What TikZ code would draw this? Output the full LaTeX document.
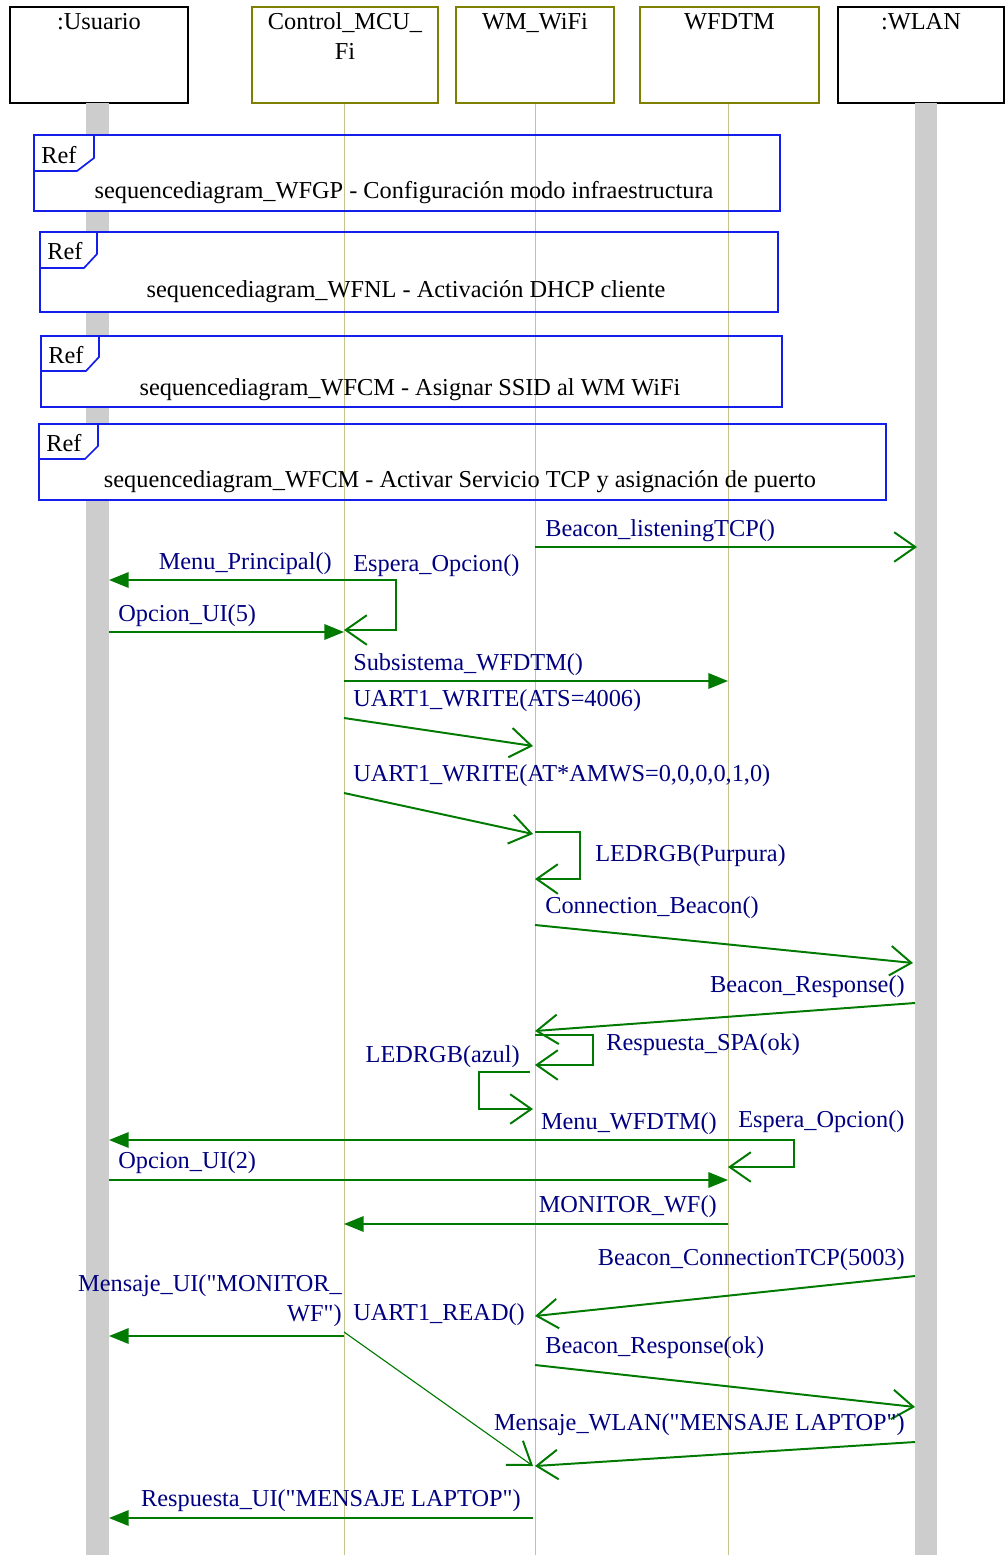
\documentclass[tikz,border=0pt]{standalone}
\usepackage{fontspec}
\setmainfont{Liberation Serif}
\usetikzlibrary{arrows.meta}

\definecolor{msggreen}{RGB}{0,122,0}
\definecolor{lblblue}{RGB}{0,0,128}
\definecolor{headolive}{RGB}{128,128,0}
\definecolor{lifeolive}{RGB}{196,196,140}
\definecolor{refblue}{RGB}{20,30,235}
\definecolor{barfill}{RGB}{205,205,205}

\begin{document}
\begin{tikzpicture}[x=0.025cm, y=-0.025cm,
  every node/.style={font=\fontsize{17.3}{21}\selectfont, inner sep=0pt},
  txt/.style={yshift=-2pt},
  head/.style={draw, line width=1.4pt, fill=white, minimum height=2.4cm},
  lifeline/.style={draw=lifeolive, line width=0.7pt},
  bar/.style={fill=barfill},
  frame/.style={draw=refblue, line width=1.2pt},
  lbl/.style={txt, text=lblblue},
  msg/.style={draw=msggreen, line width=1.4pt, -{Triangle[length=14pt, width=11pt]}},
  async/.style={draw=msggreen, line width=1.4pt, -{Straight Barb[length=15pt, width=21pt]}},
  selfmsg/.style={draw=msggreen, line width=0.8pt, -{Straight Barb[length=15pt, width=21pt, line width=1.4pt]}}]
  \useasboundingbox (0,0) rectangle (1006,1555);

  % Lifeline heads
  \node[head, minimum width=4.45cm] (usr) at (99,55) {};
  \node[head, draw=headolive, minimum width=4.65cm] (ctl) at (345,55) {};
  \node[head, draw=headolive, minimum width=3.95cm] (wm) at (535,55) {};
  \node[head, draw=headolive, minimum width=4.475cm] (dtm) at (729.5,55) {};
  \node[head, minimum width=4.15cm] (wlan) at (921,55) {};
  \node[txt, anchor=north] (usrt) at (99,10) {:Usuario};
  \node[txt, anchor=north, align=center] (ctlt) at (345,10) {Control\_MCU\_\\Fi};
  \node[txt, anchor=north] (wmt) at (535,10) {WM\_WiFi};
  \node[txt, anchor=north] (dtmt) at (729.5,10) {WFDTM};
  \node[txt, anchor=north] (wlant) at (921,10) {:WLAN};

  % Actor bars
  \fill[bar] (86,103) rectangle (109,1555);
  \fill[bar] (915,103) rectangle (937,1555);

  % Ref frames (white ground first)
  \fill[white] (34,135) rectangle (780,211);
  \fill[white] (40,232) rectangle (778,312);
  \fill[white] (41,336) rectangle (782,407);
  \fill[white] (39,424) rectangle (886,500);

  % Lifelines
  \coordinate (ctlend) at (344,1555);
  \coordinate (wmend) at (535,1555);
  \coordinate (dtmend) at (728,1555);
  \draw[lifeline] (ctl.south -| ctlend) -- (ctlend);
  \draw[lifeline] (wm.south -| wmend) -- (wmend);
  \draw[lifeline] (dtm.south -| dtmend) -- (dtmend);

  % Ref frames
  \draw[frame] (34,135) rectangle (780,211);
  \draw[frame] (34,171) -- (77,171) -- (94,158) -- (94,135);
  \node[txt] (ref1) at (59,152) {Ref};
  \node[txt] (reft1) at (404,190) {sequencediagram\_WFGP - Configuración modo infraestructura};

  \draw[frame] (40,232) rectangle (778,312);
  \draw[frame] (40,268) -- (84,268) -- (97,254) -- (97,232);
  \node[txt] (ref2) at (65,248) {Ref};
  \node[txt] (reft2) at (406,289) {sequencediagram\_WFNL - Activación DHCP cliente};

  \draw[frame] (41,336) rectangle (782,407);
  \draw[frame] (41,371) -- (86,371) -- (99,357) -- (99,336);
  \node[txt] (ref3) at (66,352) {Ref};
  \node[txt] (reft3) at (410,387) {sequencediagram\_WFCM - Asignar SSID al WM WiFi};

  \draw[frame] (39,424) rectangle (886,500);
  \draw[frame] (39,459) -- (85,459) -- (98,446) -- (98,424);
  \node[txt] (ref4) at (64,440) {Ref};
  \node[txt] (reft4) at (460,479) {sequencediagram\_WFCM - Activar Servicio TCP y asignación de puerto};

  % Messages - upper part
  \coordinate (m1s) at (535,547); \coordinate (m1e) at (917,547);
  \draw[async] (m1s) -- (m1e);
  \node[lbl, anchor=west] (l1) at (545,528) {Beacon\_listeningTCP()};

  \coordinate (m2s) at (344,580); \coordinate (m2e) at (109,580);
  \draw[msg] (m2s) -- (m2e);
  \node[lbl, anchor=east] (l2) at (332,561) {Menu\_Principal()};

  \coordinate (s1e) at (344,630);
  \draw[selfmsg] (m2s) -- ++(52,0) |- (s1e);
  \node[lbl, anchor=west] (l3) at (353,563) {Espera\_Opcion()};

  \coordinate (m3s) at (109,632); \coordinate (m3e) at (344,632);
  \draw[msg] (m3s) -- (m3e);
  \node[lbl, anchor=west] (l4) at (118,613) {Opcion\_UI(5)};

  \coordinate (m4s) at (344,681); \coordinate (m4e) at (728,681);
  \draw[msg] (m4s) -- (m4e);
  \node[lbl, anchor=west] (l5) at (353,662) {Subsistema\_WFDTM()};

  \coordinate (m5s) at (344,718); \coordinate (m5e) at (533,746);
  \draw[async] (m5s) -- (m5e);
  \node[lbl, anchor=west] (l6) at (353,698) {UART1\_WRITE(ATS=4006)};

  \coordinate (m6s) at (344,793); \coordinate (m6e) at (533,834);
  \draw[async] (m6s) -- (m6e);
  \node[lbl, anchor=west] (l7) at (353,773) {UART1\_WRITE(AT*AMWS=0,0,0,0,1,0)};

  \coordinate (s2s) at (535,832); \coordinate (s2e) at (535,879);
  \draw[selfmsg] (s2s) -- ++(45,0) |- (s2e);
  \node[lbl, anchor=west] (l8) at (595,853) {LEDRGB(Purpura)};

  \coordinate (m7s) at (535,925); \coordinate (m7e) at (913,963);
  \draw[async] (m7s) -- (m7e);
  \node[lbl, anchor=west] (l9) at (545,905) {Connection\_Beacon()};

  \coordinate (m8s) at (915,1003); \coordinate (m8e) at (535,1031);
  \draw[async] (m8s) -- (m8e);
  \node[lbl, anchor=east] (l10) at (905,984) {Beacon\_Response()};

  \coordinate (s3s) at (535,1035); \coordinate (s3e) at (535,1065);
  \draw[selfmsg] (s3s) -- ++(58,0) |- (s3e);
  \node[lbl, anchor=west] (l11) at (606,1042) {Respuesta\_SPA(ok)};

  \coordinate (s4s) at (530,1072); \coordinate (s4e) at (533,1109);
  \draw[selfmsg] (s4s) -- ++(-51,0) |- (s4e);
  \node[lbl, anchor=east] (l12) at (520,1054) {LEDRGB(azul)};

  % Messages - lower part
  \coordinate (m9s) at (728,1140); \coordinate (m9e) at (109,1140);
  \draw[msg] (m9s) -- (m9e);
  \node[lbl, anchor=east] (l13) at (717,1121) {Menu\_WFDTM()};

  \coordinate (s5e) at (728,1167);
  \draw[selfmsg] (m9s) -- ++(66,0) |- (s5e);
  \node[lbl, anchor=west] (l14) at (738,1119) {Espera\_Opcion()};

  \coordinate (m10s) at (109,1180); \coordinate (m10e) at (728,1180);
  \draw[msg] (m10s) -- (m10e);
  \node[lbl, anchor=west] (l15) at (118,1160) {Opcion\_UI(2)};

  \coordinate (m11s) at (728,1224); \coordinate (m11e) at (344,1224);
  \draw[msg] (m11s) -- (m11e);
  \node[lbl, anchor=east] (l16) at (717,1204) {MONITOR\_WF()};

  \coordinate (m12s) at (915,1276); \coordinate (m12e) at (535,1316);
  \draw[async] (m12s) -- (m12e);
  \node[lbl, anchor=east] (l17) at (905,1257) {Beacon\_ConnectionTCP(5003)};

  \coordinate (m13s) at (344,1336); \coordinate (m13e) at (109,1336);
  \draw[msg] (m13s) -- (m13e);
  \node[lbl, anchor=east, align=right] (l18) at (342,1298) {Mensaje\_UI(\textquotedbl MONITOR\_\\WF\textquotedbl)};

  \coordinate (m14s) at (344,1332); \coordinate (m14e) at (533,1466);
  \draw[selfmsg] (m14s) -- (m14e);
  \node[lbl, anchor=west] (l19) at (353,1312) {UART1\_READ()};

  \coordinate (m15s) at (535,1365); \coordinate (m15e) at (915,1407);
  \draw[async] (m15s) -- (m15e);
  \node[lbl, anchor=west] (l20) at (545,1345) {Beacon\_Response(ok)};

  \coordinate (m16s) at (915,1442); \coordinate (m16e) at (535,1466);
  \draw[async] (m16s) -- (m16e);
  \node[lbl, anchor=east] (l21) at (905,1422) {Mensaje\_WLAN(\textquotedbl MENSAJE LAPTOP\textquotedbl)};

  \coordinate (m17s) at (533,1518); \coordinate (m17e) at (109,1518);
  \draw[msg] (m17s) -- (m17e);
  \node[lbl, anchor=east] (l22) at (521,1498) {Respuesta\_UI(\textquotedbl MENSAJE LAPTOP\textquotedbl)};
\end{tikzpicture}
\end{document}
